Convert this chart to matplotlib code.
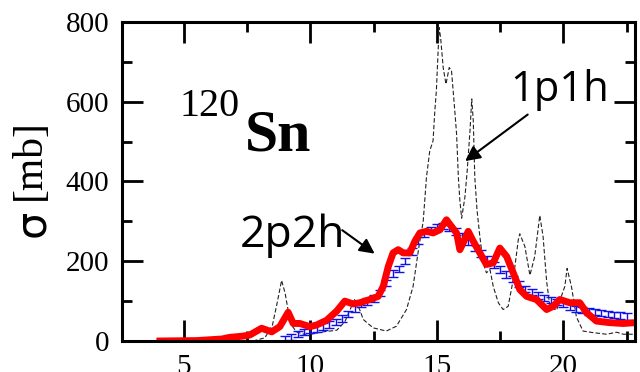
import numpy as np
import matplotlib
matplotlib.use("Agg")
import matplotlib.pyplot as plt
from matplotlib.ticker import MultipleLocator

# 2p2h calculation (thick red line)
e_2p2h = [4.05, 5.5, 6.5, 6.8, 7.3, 7.6, 8.07, 8.47, 8.79, 9.12, 9.32, 9.58, 9.98,
          10.24, 10.64, 11.04, 11.36, 11.69, 11.96, 12.35, 12.68, 12.88, 13.08, 13.27,
          13.47, 13.67, 13.93, 14.13, 14.33, 14.59, 14.85, 15.12, 15.38, 15.58, 15.78,
          15.91, 16.04, 16.24, 16.44, 16.70, 16.96, 17.23, 17.49, 17.76, 18.02, 18.28,
          18.55, 18.94, 19.34, 19.60, 19.86, 20.26, 20.65, 20.92, 21.31, 21.84, 22.37, 22.83]
s_2p2h = [0, 1, 5, 9, 12, 15, 32, 23, 36, 72, 44, 44, 36,
          40, 52, 75, 100, 93, 96, 104, 112, 137, 187, 221,
          229, 221, 221, 250, 271, 275, 271, 279, 304, 287, 271,
          229, 246, 275, 250, 221, 192, 196, 233, 212, 171, 129,
          112, 104, 79, 87, 104, 96, 96, 71, 50, 46, 44, 46]

# 1p1h calculation (thin dashed line)
e_1p1h = [7.73, 8.2, 8.5, 8.7, 8.86, 9.0, 9.12, 9.25, 9.45, 9.84, 10.5, 11.04, 11.36,
          11.62, 11.76, 11.96, 12.09, 12.48, 13.0, 13.4, 13.8, 14.06, 14.3, 14.46,
          14.59, 14.72, 14.85, 14.92, 14.98, 15.05, 15.09, 15.15, 15.25, 15.36, 15.49,
          15.58, 15.71, 15.78, 15.85, 15.91, 15.98, 16.11, 16.2, 16.31, 16.38, 16.44,
          16.5, 16.59, 16.7, 16.83, 16.96, 17.1, 17.23, 17.43, 17.62, 17.82, 18.02,
          18.22, 18.28, 18.48, 18.68, 18.87, 19.07, 19.2, 19.34, 19.47, 19.73, 20.06,
          20.15, 20.32, 20.52, 20.78, 21.18, 21.71, 22.11, 22.37, 22.83]
s_1p1h = [0, 8, 40, 100, 152, 120, 77, 40, 23, 15, 23, 27, 48,
          86, 105, 77, 54, 33, 25, 37, 79, 137, 240, 300,
          411, 477, 502, 577, 627, 727, 786, 760, 686, 644, 686,
          677, 577, 519, 411, 352, 308, 361, 427, 527, 607, 552,
          411, 327, 262, 196, 171, 179, 137, 96, 79, 87, 154,
          254, 269, 237, 165, 212, 315, 262, 150, 86, 77, 137,
          182, 137, 60, 25, 21, 17, 22, 17, 17]

# experimental data (blue error bars)
e_exp = np.arange(9.0, 22.51, 0.25)
s_exp = [5, 10, 17, 22, 27, 31, 36, 41, 47, 56, 67, 82, 93, 99, 107, 121,
         146, 169, 181, 200, 224, 252, 268, 279, 285, 288, 284, 275, 263, 249,
         234, 219, 206, 191, 179, 167, 155, 143, 131, 123, 114, 108, 103, 98,
         93, 86, 81, 77, 74, 72, 70, 68, 66, 64, 61]
err_exp = 8

fig = plt.figure(figsize=(6.4, 3.72), dpi=100)
ax = fig.add_axes([0.1906, 0.0833, 0.8014, 0.8576])

ax.plot(e_1p1h, s_1p1h, color="#222222", lw=0.8, dashes=(4, 2))
ax.errorbar(e_exp, s_exp, yerr=err_exp, fmt="none", ecolor="#1010ee",
            elinewidth=1.0, capsize=3.5, capthick=1.0)
ax.plot(e_2p2h, s_2p2h, color="#ff0000", lw=5, solid_joinstyle="round")

ax.set_xlim(2.55, 22.83)
ax.set_ylim(0, 800)
ax.xaxis.set_major_locator(MultipleLocator(5))
ax.xaxis.set_minor_locator(MultipleLocator(2.5))
ax.yaxis.set_major_locator(MultipleLocator(200))
ax.yaxis.set_minor_locator(MultipleLocator(100))
ax.tick_params(which="both", direction="in", top=True, right=True, width=2)
ax.tick_params(which="major", length=15, pad=9)
ax.tick_params(which="minor", length=7.5)
for lab in ax.get_xticklabels() + ax.get_yticklabels():
    lab.set_fontfamily("Liberation Serif")
    lab.set_fontsize(21)
for sp in ax.spines.values():
    sp.set_linewidth(2.2)

# y label: sans sigma, serif units
fig.text(0.05, 0.40, "σ", rotation=90, fontsize=31, family="DejaVu Sans",
         ha="center", va="center")
fig.text(0.047, 0.57, "[mb]", rotation=90, fontsize=30, family="Liberation Serif",
         ha="center", va="center")

ax.text(4.84, 565, "120", fontsize=29, family="Liberation Serif")
ax.text(7.41, 477, "Sn", fontsize=43, family="Liberation Serif", fontweight="bold")

ax.text(17.9, 602, "1p1h", fontsize=30, family="Open Sans")
ax.text(7.21, 237, "2p2h", fontsize=32, family="Open Sans")

arrow = dict(arrowstyle="-|>,head_length=0.9,head_width=0.45", color="black", lw=1.5)
ax.annotate("", xy=(16.03, 447), xytext=(18.68, 572), arrowprops=arrow)
ax.annotate("", xy=(12.63, 215), xytext=(11.17, 282), arrowprops=arrow)

fig.savefig("out.png", dpi=100)
